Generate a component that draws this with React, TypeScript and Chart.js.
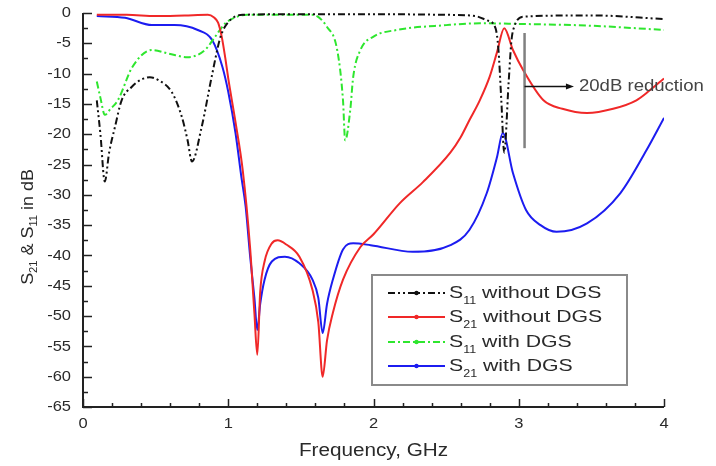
import React, { useEffect, useRef } from "react";
import { Chart, registerables } from "chart.js";
Chart.register(...registerables);

// ---------- DATA ----------
const s11NoDgsFreq = [0.095, 0.12, 0.15, 0.18, 0.22, 0.266, 0.335, 0.4, 0.46, 0.52, 0.61, 0.68, 0.72, 0.75, 0.817, 0.886, 0.94, 0.965, 1.0, 1.045, 1.1, 1.5, 2.0, 2.5, 2.7, 2.78, 2.84, 2.86, 2.88, 2.9, 2.93, 2.95, 2.97, 3.03, 3.5, 4.0];
const s11NoDgsDb = [-14.4, -20, -27.8, -23, -18.8, -14.4, -12.2, -11, -10.6, -11.1, -13, -17.1, -21, -24.5, -18.8, -10.5, -4.5, -2.8, -1.5, -0.6, -0.3, -0.2, -0.2, -0.3, -0.5, -1.2, -2.5, -6, -14.4, -23, -11.6, -4.5, -2.2, -0.6, -0.4, -1.0];

const s21NoDgsFreq = [0.095, 0.3, 0.5, 0.7, 0.86, 0.9, 0.93, 0.955, 0.98, 1.0, 1.05, 1.1, 1.15, 1.18, 1.2, 1.22, 1.25, 1.3, 1.34, 1.4, 1.49, 1.58, 1.62, 1.65, 1.68, 1.72, 1.79, 1.91, 2.0, 2.18, 2.34, 2.53, 2.6, 2.66, 2.73, 2.8, 2.85, 2.9, 2.96, 3.03, 3.17, 3.3, 3.47, 3.65, 3.81, 3.9, 4.0];
const s21NoDgsDb = [-0.3, -0.3, -0.5, -0.4, -0.3, -0.7, -1.6, -3.9, -7.5, -10.8, -18, -26, -38.6, -49.5, -56.4, -46, -41, -38, -37.5, -38.2, -40.2, -45.7, -51, -60, -54, -49.5, -44, -38.6, -36.5, -31.4, -27.9, -23, -20.5, -17.7, -14.5, -10.5, -6.5, -2.5, -6.1, -9.4, -14.4, -15.8, -16.5, -15.8, -14.4, -12.8, -10.8];

const s11DgsFreq = [0.095, 0.12, 0.15, 0.19, 0.24, 0.34, 0.475, 0.59, 0.72, 0.84, 0.91, 0.98, 1.05, 1.13, 1.58, 1.68, 1.75, 1.79, 1.805, 1.84, 1.86, 1.91, 2.0, 2.16, 2.5, 2.73, 3.0, 3.5, 4.0];
const s11DgsDb = [-11.3, -14, -16.8, -15.8, -14.4, -8.9, -6.1, -6.7, -7.3, -6.1, -3.9, -1.7, -0.7, -0.3, -0.3, -2.3, -6.1, -14.4, -21, -16, -10.6, -6.1, -3.9, -2.8, -2, -1.7, -1.8, -2.1, -2.8];

const s21DgsFreq = [0.095, 0.29, 0.475, 0.63, 0.79, 0.89, 0.96, 1.0, 1.05, 1.09, 1.12, 1.15, 1.18, 1.2, 1.22, 1.25, 1.3, 1.39, 1.49, 1.58, 1.62, 1.65, 1.68, 1.72, 1.79, 1.86, 1.98, 2.27, 2.53, 2.66, 2.78, 2.85, 2.89, 2.96, 3.05, 3.15, 3.26, 3.47, 3.7, 3.88, 4.0];
const s21DgsDb = [-0.5, -0.8, -2, -2, -2.8, -4.5, -8.9, -13, -19.8, -27, -32, -40, -47, -52.3, -48, -44, -41, -40.2, -41.3, -44, -47, -52.8, -48, -44, -39, -38, -38.3, -39.4, -38.3, -35.8, -29.7, -23.8, -19.8, -26.4, -32.5, -35, -36.1, -34.7, -29.7, -22.6, -17.3];

const xLabelValues = [0, 1, 2, 3, 4];
const yLabelValues = [0, -5, -10, -15, -20, -25, -30, -35, -40, -45, -50, -55, -60, -65];

// annotation (in data units)
const annotLineFreq = 3.04;
const annotLineTop = -3.3;
const annotLineBottom = -22.3;
const annotArrowDb = -12.1;
const annotArrowEnd = 3.38;
const annotText = "20dB reduction";

const FONT = "'Liberation Sans', Arial, sans-serif";

const series = [
  { label: ["S", "11", " without DGS"], freq: s11NoDgsFreq, db: s11NoDgsDb, color: "#111111", dash: [7, 3, 2, 3, 2, 3] },
  { label: ["S", "21", " without DGS"], freq: s21NoDgsFreq, db: s21NoDgsDb, color: "#f02828", dash: [] },
  { label: ["S", "11", " with DGS"], freq: s11DgsFreq, db: s11DgsDb, color: "#2ee62e", dash: [7, 3, 2, 3] },
  { label: ["S", "21", " with DGS"], freq: s21DgsFreq, db: s21DgsDb, color: "#1c1cf0", dash: [] },
];

function near(v: number, step: number) {
  return Math.abs(v / step - Math.round(v / step)) < 1e-6;
}

function stretchText(ctx: CanvasRenderingContext2D, text: string, x: number, y: number, sx: number) {
  ctx.save();
  ctx.translate(x, y);
  ctx.scale(sx, 1);
  ctx.fillText(text, 0, 0);
  ctx.restore();
  return ctx.measureText(text).width * sx;
}

function drawSubLabel(ctx: CanvasRenderingContext2D, parts: string[], x: number, y: number, size: number, subSize: number, subDrop: number, sx: number) {
  let cx = x;
  ctx.font = `${size}px ${FONT}`;
  cx += stretchText(ctx, parts[0], cx, y, sx);
  ctx.font = `${subSize}px ${FONT}`;
  cx += stretchText(ctx, parts[1], cx, y + subDrop, sx);
  ctx.font = `${size}px ${FONT}`;
  cx += stretchText(ctx, parts[2], cx, y, sx);
  return cx - x;
}

const overlay = {
  id: "overlay",
  afterDraw(chart: any) {
    const { ctx, chartArea: ca, scales } = chart;
    const x = scales.x;
    const y = scales.y;
    ctx.save();
    ctx.strokeStyle = "#222";
    ctx.lineWidth = 2;
    ctx.setLineDash([]);
    ctx.beginPath();
    ctx.moveTo(ca.left, ca.top);
    ctx.lineTo(ca.left, ca.bottom);
    ctx.lineTo(ca.right, ca.bottom);
    ctx.stroke();
    ctx.lineWidth = 1.5;
    x.ticks.forEach((t: any) => {
      const px = Math.round(x.getPixelForValue(t.value)) + 0.5;
      const major = near(t.value, 1);
      ctx.beginPath();
      ctx.moveTo(px, ca.bottom);
      ctx.lineTo(px, ca.bottom - (major ? 8 : 4));
      ctx.stroke();
    });
    y.ticks.forEach((t: any) => {
      const py = Math.round(y.getPixelForValue(t.value)) + 0.5;
      const major = near(t.value, 5);
      ctx.beginPath();
      ctx.moveTo(ca.left, py);
      ctx.lineTo(ca.left + (major ? 9 : 5), py);
      ctx.stroke();
    });
    ctx.fillStyle = "#2a2a2a";
    ctx.font = `15px ${FONT}`;
    ctx.textBaseline = "middle";
    xLabelValues.forEach((v) => {
      const px = x.getPixelForValue(v);
      const w = ctx.measureText(String(v)).width * 1.1;
      stretchText(ctx, String(v), px - w / 2, ca.bottom + 17, 1.1);
    });
    yLabelValues.forEach((v) => {
      const py = y.getPixelForValue(v);
      const w = ctx.measureText(String(v)).width * 1.1;
      stretchText(ctx, String(v), ca.left - 12 - w, py, 1.1);
    });
    ctx.font = `18px ${FONT}`;
    ctx.textBaseline = "middle";
    const xt = "Frequency, GHz";
    const xtw = ctx.measureText(xt).width * 1.15;
    stretchText(ctx, xt, (ca.left + ca.right) / 2 - xtw / 2, 451, 1.15);

    ctx.save();
    ctx.translate(33, 227);
    ctx.rotate(-Math.PI / 2);
    ctx.textBaseline = "alphabetic";
    const parts = [["S", 16], ["21", 10], [" & S", 16], ["11", 10], [" in dB", 16]] as [string, number][];
    let total = 0;
    parts.forEach(([s, sz]) => {
      ctx.font = `${sz}px ${FONT}`;
      total += ctx.measureText(s).width * 1.12;
    });
    let cx = -total / 2;
    parts.forEach(([s, sz]) => {
      ctx.font = `${sz}px ${FONT}`;
      cx += stretchText(ctx, s, cx, sz === 10 ? 4 : 0, 1.12);
    });
    ctx.restore();

    const lx = x.getPixelForValue(annotLineFreq);
    ctx.strokeStyle = "#808080";
    ctx.lineWidth = 2.5;
    ctx.beginPath();
    ctx.moveTo(lx, y.getPixelForValue(annotLineTop));
    ctx.lineTo(lx, y.getPixelForValue(annotLineBottom));
    ctx.stroke();
    const ay = Math.round(y.getPixelForValue(annotArrowDb)) + 0.5;
    const ax2 = x.getPixelForValue(annotArrowEnd);
    ctx.strokeStyle = "#111";
    ctx.lineWidth = 1.5;
    ctx.beginPath();
    ctx.moveTo(lx, ay);
    ctx.lineTo(ax2 - 6, ay);
    ctx.stroke();
    ctx.fillStyle = "#111";
    ctx.beginPath();
    ctx.moveTo(ax2, ay);
    ctx.lineTo(ax2 - 8, ay - 3);
    ctx.lineTo(ax2 - 8, ay + 3);
    ctx.closePath();
    ctx.fill();
    ctx.fillStyle = "#444";
    ctx.font = `16px ${FONT}`;
    ctx.textBaseline = "middle";
    stretchText(ctx, annotText, ax2 + 5, ay, 1.16);

    const bx = 372, by = 275, bw = 255, bh = 110;
    ctx.fillStyle = "#fff";
    ctx.fillRect(bx, by, bw, bh);
    ctx.strokeStyle = "#8a8a8a";
    ctx.lineWidth = 2;
    ctx.strokeRect(bx, by, bw, bh);
    const rows = [293, 317, 342, 366];
    series.forEach((s, i) => {
      const ry = rows[i];
      ctx.strokeStyle = s.color;
      ctx.lineWidth = 2;
      ctx.setLineDash(s.dash);
      ctx.beginPath();
      ctx.moveTo(388, ry);
      ctx.lineTo(445, ry);
      ctx.stroke();
      ctx.setLineDash([]);
      ctx.fillStyle = s.color;
      ctx.beginPath();
      ctx.arc(416.5, ry, 2.2, 0, Math.PI * 2);
      ctx.fill();
      ctx.fillStyle = "#2a2a2a";
      ctx.textBaseline = "middle";
      drawSubLabel(ctx, s.label, 449, ry, 17, 10, 8, 1.25);
    });
    ctx.restore();
  },
};

export default function App() {
  const ref = useRef<HTMLCanvasElement | null>(null);
  useEffect(() => {
    document.body.style.margin = "0";
    const canvas = ref.current!;
    const chart = new Chart(canvas, {
      type: "line",
      data: {
        datasets: series.map((s) => ({
          label: s.label.join(""),
          data: s.freq.map((f, i) => ({ x: f, y: s.db[i] })),
          borderColor: s.color,
          borderWidth: 2,
          borderDash: s.dash,
          pointRadius: 0,
          fill: false,
          cubicInterpolationMode: "monotone" as const,
        })),
      },
      options: {
        animation: false,
        responsive: false,
        events: [],
        layout: { padding: { left: 0, top: 13, right: 52, bottom: 0 } },
        plugins: { legend: { display: false }, tooltip: { enabled: false } },
        scales: {
          x: {
            type: "linear",
            min: 0,
            max: 4,
            grid: { display: false },
            border: { display: false },
            ticks: { display: false, stepSize: 0.2, autoSkip: false },
            afterFit: (s: any) => { s.height = 59; },
          },
          y: {
            type: "linear",
            min: -65,
            max: 0,
            grid: { display: false },
            border: { display: false },
            ticks: { display: false, stepSize: 2.5, autoSkip: false },
            afterFit: (s: any) => { s.width = 83; },
          },
        },
      },
      plugins: [overlay],
    });
    return () => chart.destroy();
  }, []);
  return (
    <div style={{ width: 716, height: 466, background: "#fff" }}>
      <canvas ref={ref} width={716} height={466} style={{ display: "block" }} />
    </div>
  );
}
